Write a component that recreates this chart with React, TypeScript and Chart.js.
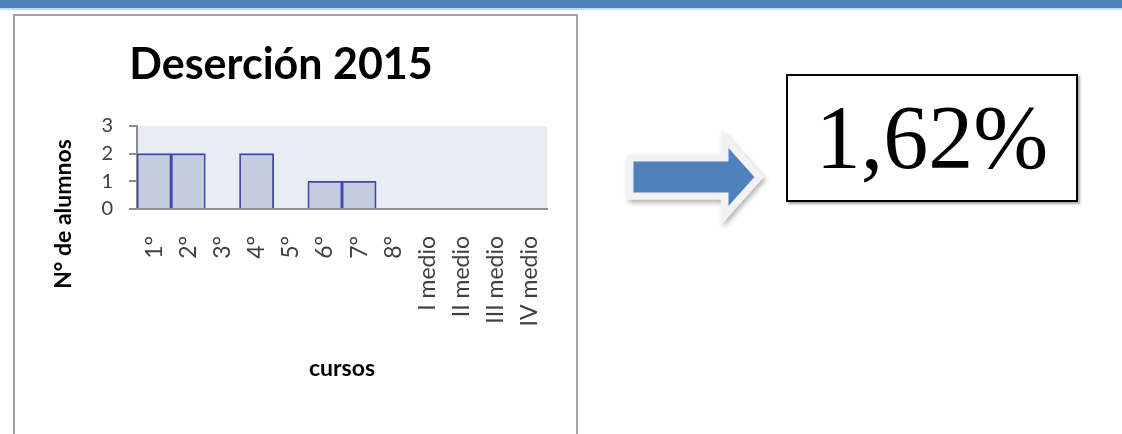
import React, { useEffect, useRef } from "react";
import { Chart, registerables } from "chart.js";

Chart.register(...registerables);

const chartTitle = "Deserción 2015";
const yAxisTitle = "N° de alumnos";
const xAxisTitle = "cursos";
const categories = ["1°", "2°", "3°", "4°", "5°", "6°", "7°", "8°", "I medio", "II medio", "III medio", "IV medio"];
const alumnos = [2, 2, 0, 2, 0, 1, 1, 0, 0, 0, 0, 0];
const yTicks = [0, 1, 2, 3];
const rateText = "1,62%";

const FONT = "Lato, 'Open Sans', sans-serif";

const plotBgPlugin = {
  id: "plotBg",
  beforeDraw(chart: any) {
    const { ctx, chartArea } = chart;
    ctx.save();
    ctx.fillStyle = "#E8ECF4";
    ctx.fillRect(chartArea.left, chartArea.top, chartArea.right - chartArea.left, chartArea.bottom - chartArea.top);
    ctx.restore();
  },
};

const yTitlePlugin = {
  id: "yTitle",
  afterDraw(chart: any) {
    const { ctx, chartArea } = chart;
    ctx.save();
    ctx.translate(chartArea.left - 73, chartArea.top + 88);
    ctx.rotate(-Math.PI / 2);
    ctx.font = `bold 23px ${FONT}`;
    ctx.fillStyle = "#000";
    ctx.textAlign = "center";
    ctx.textBaseline = "middle";
    ctx.fillText(yAxisTitle, 0, 0);
    ctx.restore();
  },
};

function BarChart() {
  const ref = useRef<HTMLCanvasElement | null>(null);
  useEffect(() => {
    if (!ref.current) return;
    const chart = new Chart(ref.current, {
      type: "bar",
      data: {
        labels: categories,
        datasets: [
          {
            data: alumnos,
            backgroundColor: "#C3CDE2",
            borderColor: "#4646AA",
            borderWidth: 1.8,
            barPercentage: 1,
            categoryPercentage: 1,
          },
        ],
      },
      options: {
        animation: false,
        responsive: false,
        maintainAspectRatio: false,
        layout: { padding: { left: 0, right: 29, top: 0, bottom: 0 } },
        plugins: {
          legend: { display: false },
          tooltip: { enabled: false },
          title: {
            display: true,
            text: chartTitle,
            color: "#000",
            font: { family: FONT, size: 43, weight: "bold", lineHeight: 1.2 },
            padding: { top: 23, bottom: 35.4 },
          },
        },
        scales: {
          x: {
            grid: { display: false, drawTicks: false },
            border: { display: true, color: "#8E8E8E", width: 2 },
            ticks: {
              minRotation: 90,
              maxRotation: 90,
              autoSkip: false,
              padding: 27,
              color: "#404040",
              font: { family: FONT, size: 23 },
            },
            title: {
              display: true,
              text: xAxisTitle,
              color: "#000",
              font: { family: FONT, size: 23, weight: "bold", lineHeight: 1.2 },
              padding: { top: 0, bottom: 52 },
            },
            afterFit(scale: any) {
              scale.height = 225;
              scale.paddingLeft = 0;
              scale.paddingRight = 0;
            },
          },
          y: {
            min: 0,
            max: 3,
            afterBuildTicks(scale: any) {
              scale.ticks = yTicks.map((v) => ({ value: v }));
            },
            grid: { drawOnChartArea: false, drawTicks: true, tickLength: 8, color: "#8E8E8E", lineWidth: 2 },
            border: { display: true, color: "#8E8E8E", width: 2 },
            ticks: {
              padding: 16,
              color: "#404040",
              font: { family: FONT, size: 20 },
            },
            afterFit(scale: any) {
              scale.width = 122;
              scale.paddingTop = 0;
              scale.paddingBottom = 0;
            },
          },
        },
      },
      plugins: [plotBgPlugin, yTitlePlugin],
    });
    return () => chart.destroy();
  }, []);
  return <canvas ref={ref} width={561} height={418} style={{ position: "absolute", left: 15, top: 16, width: 561, height: 418 }} />;
}

export default function App() {
  return (
    <div style={{ position: "absolute", left: 0, top: 0, width: 1122, height: 434, background: "#fff", overflow: "hidden" }}>
      <div style={{ position: "absolute", left: 0, top: 0, width: 1122, height: 8, background: "#4F81BD" }} />
      <div style={{ position: "absolute", left: 0, top: 8, width: 1122, height: 2, background: "#C6D9F1" }} />
      <div
        style={{
          position: "absolute",
          left: 13,
          top: 14,
          width: 561,
          height: 440,
          borderLeft: "2px solid #A0A0A0",
          borderTop: "2px solid #A0A0A0",
          borderRight: "2px solid #A0A0A0",
          boxSizing: "content-box",
        }}
      />
      <BarChart />
      <svg width={1122} height={434} style={{ position: "absolute", left: 0, top: 0, pointerEvents: "none" }}>
        <defs>
          <filter id="sh" x="-20%" y="-20%" width="140%" height="140%">
            <feDropShadow dx="2" dy="3" stdDeviation="2.5" floodColor="#000" floodOpacity="0.3" />
          </filter>
        </defs>
        <polygon
          points="630,158 725,158 725,139 759,177 725,215 725,196 630,196"
          fill="#4F81BD"
          stroke="#F2F2F2"
          strokeWidth={7}
          strokeLinejoin="miter"
          filter="url(#sh)"
        />
      </svg>
      <div
        style={{
          position: "absolute",
          left: 786,
          top: 74,
          width: 288,
          height: 124,
          border: "2px solid #000",
          boxShadow: "2px 2px 2px rgba(0,0,0,0.35)",
          background: "#fff",
          textAlign: "center",
          lineHeight: "124px",
          fontFamily: "'Liberation Serif', 'Times New Roman', serif",
          fontSize: 90,
          color: "#000",
          whiteSpace: "nowrap",
        }}
      >
        {rateText}
      </div>
    </div>
  );
}
